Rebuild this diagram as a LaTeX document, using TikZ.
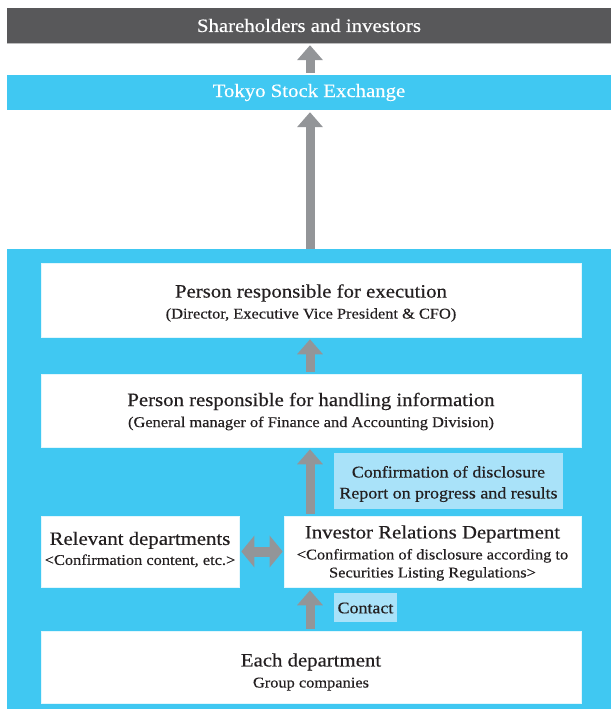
\documentclass[tikz,border=0pt]{standalone}
\usepackage{fontspec}
\setmainfont{Liberation Serif}[FakeStretch=1.1, FakeBold=0.4]
\usetikzlibrary{arrows.meta}
\definecolor{cyanbg}{HTML}{40C8F2}
\definecolor{darkbar}{HTML}{58585A}
\definecolor{lblue}{HTML}{A9E2F9}
\definecolor{arrowgray}{HTML}{939598}
\definecolor{txt}{HTML}{231F20}
\newcommand{\mainsz}{\fontsize{18.9}{22}\selectfont}
\newcommand{\subsz}{\fontsize{14.9}{18}\selectfont}
\newcommand{\lblsz}{\fontsize{16.3}{21}\selectfont}
\tikzset{
  bar/.style={rectangle, inner sep=0pt, minimum width=604pt, text=white, font=\mainsz},
  wbox/.style={rectangle, fill=white, draw=white!85!cyanbg, line width=0.6pt, inner sep=0pt},
  wtext/.style={inner sep=0pt, align=center, text=txt, font=\subsz},
  lbox/.style={rectangle, fill=lblue, inner sep=0pt},
  ltext/.style={inner sep=0pt, align=center, text=txt, font=\lblsz},
  uparrow/.style={draw=arrowgray, line width=9pt, -{Triangle[width=25pt,length=15pt]}},
  dblarrow/.style={draw=arrowgray, line width=10pt, {Triangle[width=31pt,length=13pt]}-{Triangle[width=31pt,length=13pt]}},
}
\begin{document}
\begin{tikzpicture}[x=1pt,y=-1pt]
\useasboundingbox (0,0) rectangle (611,709);
\fill[white] (0,0) rectangle (611,709);
% region background
\node[rectangle, fill=cyanbg, inner sep=0pt, minimum width=604pt, minimum height=460pt] (region) at (309,479) {};
% top bars
\node[bar, fill=darkbar, minimum height=35pt] (share) at (309,25.5) {Shareholders and investors};
\draw[white!60!darkbar, line width=1pt] (share.south west) -- (share.south east);
\node[bar, fill=cyanbg, minimum height=35pt] (tse) at (309,92.5) {Tokyo Stock Exchange};
% boxes
\node[wbox, minimum width=540pt, minimum height=74pt] (exec) at (311,300) {};
\node[wtext] (exect) at (311,303)
  {{\mainsz Person responsible for execution}\\[3pt](Director, Executive Vice President \& CFO)};
\node[wbox, minimum width=540pt, minimum height=73pt] (info) at (311,410.5) {};
\node[wtext] (infot) at (311,411.5)
  {{\mainsz Person responsible for handling information}\\[3pt](General manager of Finance and Accounting Division)};
\node[wbox, minimum width=198pt, minimum height=71pt] (rel) at (140,551.5) {};
\node[wtext] (relt) at (140,549.5)
  {{\mainsz Relevant departments}\\[2pt]<Confirmation content, etc.>};
\node[wbox, minimum width=297pt, minimum height=71pt] (ir) at (432.5,551.5) {};
\node[wtext] (irt) at (432.5,553)
  {{\mainsz Investor Relations Department}\\[3pt]<Confirmation of disclosure according to\\Securities Listing Regulations>};
\node[wbox, minimum width=540pt, minimum height=72pt] (each) at (311,667) {};
\node[wtext] (eacht) at (311,672)
  {{\mainsz Each department}\\[3pt]Group companies};
% labels
\node[lbox, minimum width=229pt, minimum height=56pt] (lbl1) at (448.5,481) {};
\node[ltext] (lbl1t) at (448.5,484) {Confirmation of disclosure\\Report on progress and results};
\node[lbox, minimum width=63pt, minimum height=29pt] (lbl2) at (365.5,607.5) {};
\node[ltext] (lbl2t) at (365.5,608) {Contact};
% arrows
\draw[uparrow, shorten <=2pt, shorten >=2pt] (tse.north -| 310,0) -- (share.south -| 310,0);
\draw[uparrow, shorten >=2pt] (region.north -| 310,0) -- (tse.south -| 310,0);
\draw[uparrow, shorten <=2pt, shorten >=2pt] (info.north -| 310,0) -- (exec.south -| 310,0);
\draw[uparrow, shorten <=2pt, shorten >=2pt] (ir.north -| 310,0) -- (info.south -| 310,0);
\draw[uparrow, shorten <=2pt, shorten >=3pt] (each.north -| 310,0) -- (ir.south -| 310,0);
\draw[dblarrow, shorten <=2pt, shorten >=1pt] (rel.east) -- (ir.west);
\end{tikzpicture}
\end{document}
